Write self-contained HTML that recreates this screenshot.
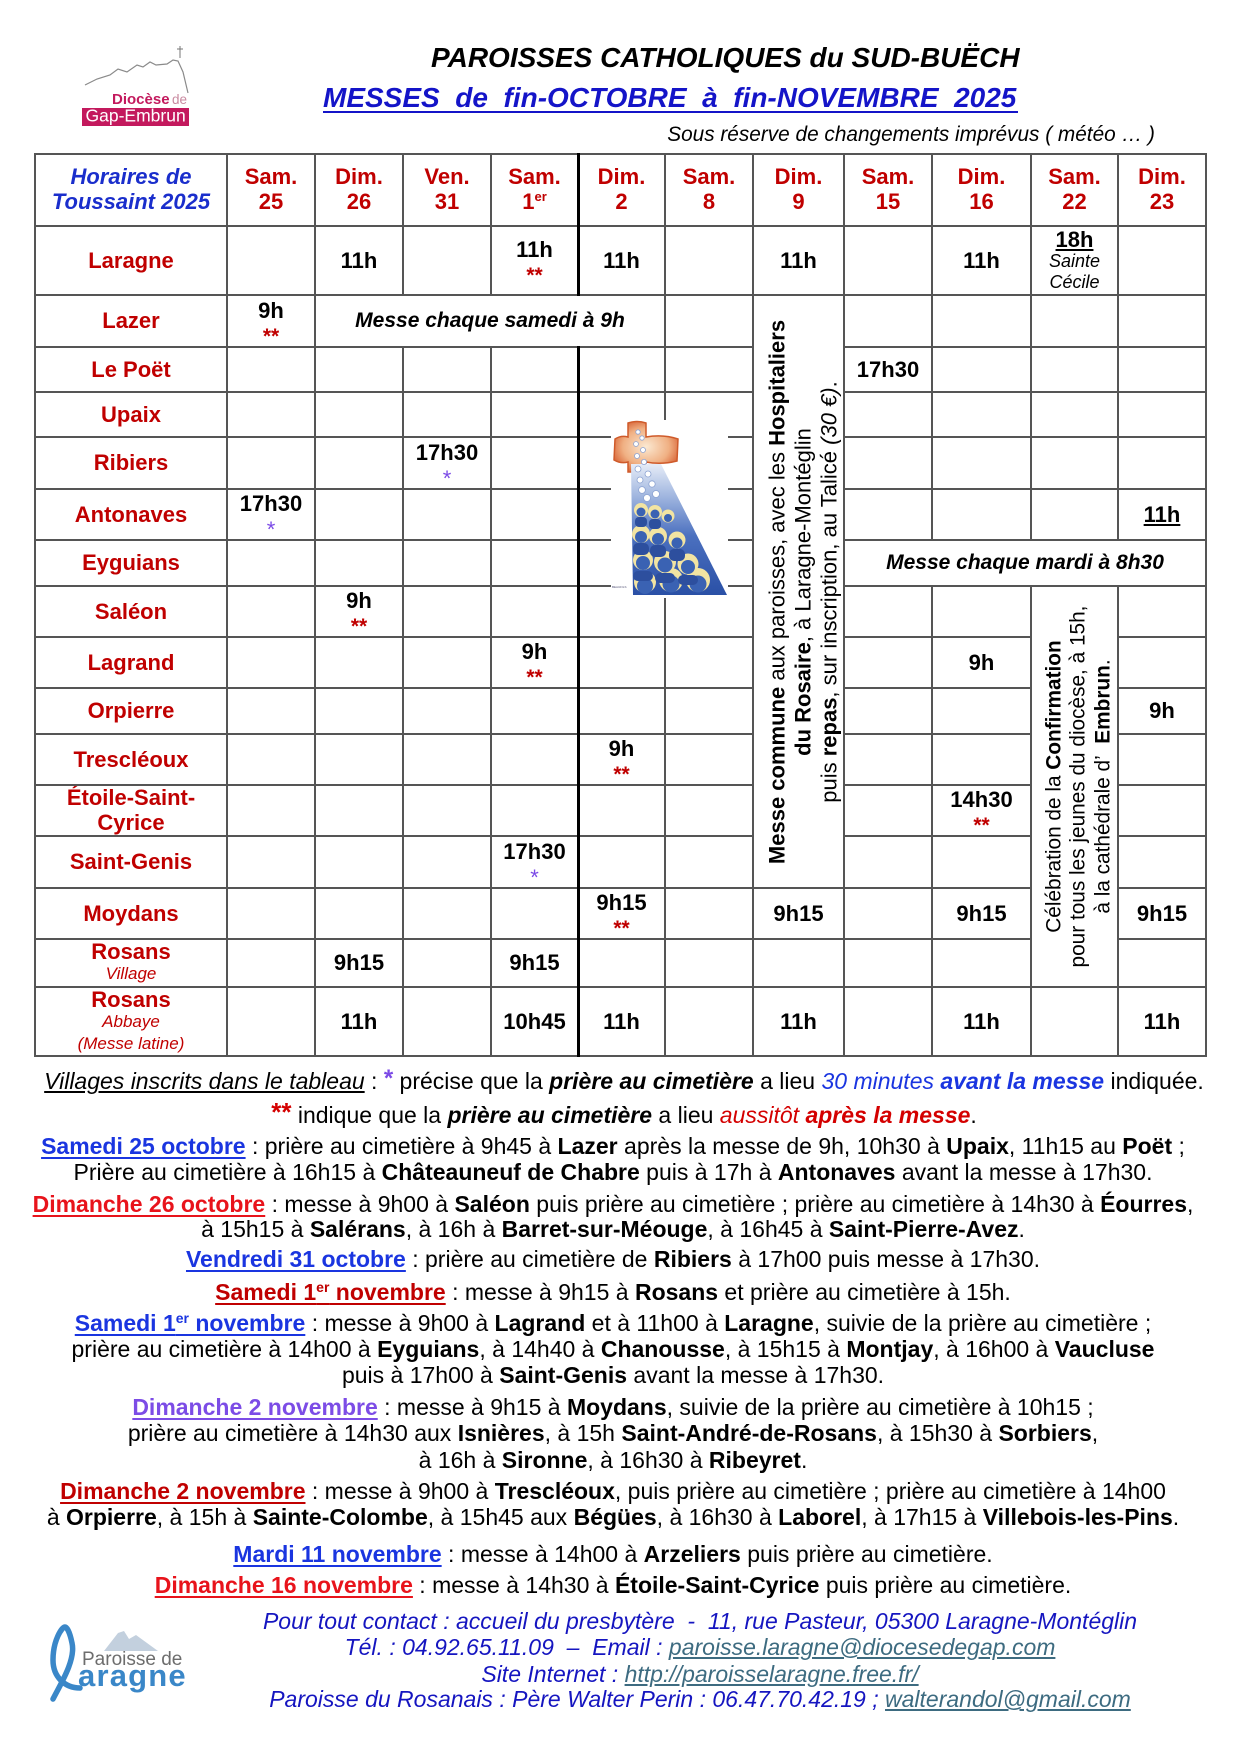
<!DOCTYPE html>
<html><head><meta charset="utf-8">
<style>
html,body{margin:0;padding:0;background:#fff;}
body{width:1241px;height:1755px;position:relative;overflow:hidden;font-family:"Liberation Sans",Arial,sans-serif;color:#000;}
.abs{position:absolute;white-space:nowrap;}
table.t{position:absolute;left:34px;top:153px;border-collapse:collapse;table-layout:fixed;width:1172px;}
.t td{border:2px solid #555;padding:0;text-align:center;vertical-align:middle;font:bold 22px/24px "Liberation Sans",Arial,sans-serif;color:#000;overflow:hidden;}
.t td.hd{color:#c00000;line-height:24.7px;}
.t td.hb{color:#1a2ecc;font-style:italic;line-height:24.7px;}
.t td.lb{color:#c00000;}
.t sup{font-size:13px;vertical-align:8px;line-height:0;}
.s2{color:#c00000;font-size:21px;line-height:14px;margin-top:7px;font-weight:bold;}
.s1{color:#7b4ae6;font-size:22px;line-height:14px;margin-top:7px;font-weight:normal;}
.sm{font:italic 17px/22px "Liberation Sans",Arial,sans-serif;color:#c00000;}
.it18{font:italic 18px/21px "Liberation Sans",Arial,sans-serif;color:#000;}
.bi{font-weight:bold;font-style:italic;}
.rot{position:absolute;transform:rotate(-90deg);text-align:center;white-space:nowrap;font-family:"Liberation Sans",Arial,sans-serif;color:#000;}
.ln{position:absolute;left:0;width:1226px;text-align:center;font-size:23px;line-height:26px;white-space:nowrap;}
.ln u.d{text-decoration-thickness:2px;text-underline-offset:3px;font-weight:bold;}
.ln sup{font-size:14px;vertical-align:8px;line-height:0;}
.bl{color:#1a35e0;}
.rd{color:#e8131b;}
.dr{color:#c00000;}
.pu{color:#7c4ce6;}
.ct{position:absolute;left:80px;width:1240px;text-align:center;font-size:23px;line-height:26px;white-space:nowrap;font-style:italic;color:#1515c0;}
.lk{color:#3d6b80;text-decoration:underline;}
</style></head>
<body>

<!-- Diocese logo -->
<svg class="abs" style="left:70px;top:40px" width="130" height="95" viewBox="0 0 130 95">
<polyline points="15,45 27,39 40,35 48,29 57,32 67,25 73,27 80,22 86,25 97,24 103,20 108,21 113,32 118,53" fill="none" stroke="#8a8a8a" stroke-width="1.2"/>
<line x1="110" y1="6" x2="110" y2="18" stroke="#777" stroke-width="1"/>
<line x1="107" y1="9" x2="113" y2="9" stroke="#777" stroke-width="1"/>
<text x="42" y="64" font-family="Liberation Sans, Arial, sans-serif" font-weight="bold" font-size="15" fill="#c3195d">Diocèse</text>
<text x="102" y="64" font-family="Liberation Sans, Arial, sans-serif" font-size="13.5" fill="#c98aa0">de</text>
<rect x="12" y="68" width="107" height="18" fill="#c3195d"/>
<text x="15.5" y="81.5" font-family="Liberation Sans, Arial, sans-serif" font-size="17.5" fill="#fff">Gap-Embrun</text>
</svg>

<!-- Titles -->
<div class="abs" style="left:431px;top:42.3px;font:italic bold 28px/32px 'Liberation Sans',Arial,sans-serif;">PAROISSES CATHOLIQUES du SUD-BUËCH</div>
<div class="abs" style="left:323px;top:81.6px;font:italic bold 28px/32px 'Liberation Sans',Arial,sans-serif;color:#1414c8;white-space:pre;">MESSES  de  fin-OCTOBRE  à  fin-NOVEMBRE  2025</div>
<div class="abs" style="left:323px;top:111px;width:695px;height:2px;background:#1414c8;"></div>
<div class="abs" style="left:500px;width:655px;top:123px;text-align:right;font:italic 20.8px/24px 'Liberation Sans',Arial,sans-serif;">Sous réserve de changements imprévus ( météo … )</div>

<!-- Table -->
<table class="t">
<colgroup>
<col style="width:192px"><col style="width:88px"><col style="width:88px"><col style="width:88px"><col style="width:87px"><col style="width:87px"><col style="width:88px"><col style="width:91px"><col style="width:88px"><col style="width:99px"><col style="width:87px"><col style="width:88px">
</colgroup>
<tr style="height:72px">
<td class="hb">Horaires de<br>Toussaint 2025</td>
<td class="hd">Sam.<br>25</td><td class="hd">Dim.<br>26</td><td class="hd">Ven.<br>31</td><td class="hd">Sam.<br>1<sup>er</sup></td><td class="hd">Dim.<br>2</td><td class="hd">Sam.<br>8</td><td class="hd">Dim.<br>9</td><td class="hd">Sam.<br>15</td><td class="hd">Dim.<br>16</td><td class="hd">Sam.<br>22</td><td class="hd">Dim.<br>23</td>
</tr>
<tr style="height:69px">
<td class="lb">Laragne</td><td></td><td>11h</td><td></td><td>11h<div class="s2">**</div></td><td>11h</td><td></td><td>11h</td><td></td><td>11h</td>
<td><div style="line-height:22px"><u>18h</u></div><div class="it18">Sainte</div><div class="it18">Cécile</div></td><td></td>
</tr>
<tr style="height:52px">
<td class="lb">Lazer</td><td>9h<div class="s2">**</div></td>
<td colspan="4" style="font-style:italic;font-size:21px;">Messe chaque samedi à 9h</td>
<td></td><td rowspan="12"></td><td></td><td></td><td></td><td></td>
</tr>
<tr style="height:45px">
<td class="lb">Le Poët</td><td></td><td></td><td></td><td></td><td></td><td></td><td>17h30</td><td></td><td></td><td></td>
</tr>
<tr style="height:45px">
<td class="lb">Upaix</td><td></td><td></td><td></td><td></td><td></td><td></td><td></td><td></td><td></td><td></td>
</tr>
<tr style="height:52px">
<td class="lb">Ribiers</td><td></td><td></td><td>17h30<div class="s1">*</div></td><td></td><td></td><td></td><td></td><td></td><td></td><td></td>
</tr>
<tr style="height:51px">
<td class="lb">Antonaves</td><td>17h30<div class="s1">*</div></td><td></td><td></td><td></td><td></td><td></td><td></td><td></td><td></td><td><u>11h</u></td>
</tr>
<tr style="height:46px">
<td class="lb">Eyguians</td><td></td><td></td><td></td><td></td><td></td><td></td>
<td colspan="4" style="font-style:italic;font-size:21px;">Messe chaque mardi à 8h30</td>
</tr>
<tr style="height:51px">
<td class="lb">Saléon</td><td></td><td>9h<div class="s2">**</div></td><td></td><td></td><td></td><td></td><td></td><td></td><td rowspan="8"></td><td></td>
</tr>
<tr style="height:51px">
<td class="lb">Lagrand</td><td></td><td></td><td></td><td>9h<div class="s2">**</div></td><td></td><td></td><td></td><td>9h</td><td></td>
</tr>
<tr style="height:46px">
<td class="lb">Orpierre</td><td></td><td></td><td></td><td></td><td></td><td></td><td></td><td></td><td>9h</td>
</tr>
<tr style="height:51px">
<td class="lb">Trescléoux</td><td></td><td></td><td></td><td></td><td>9h<div class="s2">**</div></td><td></td><td></td><td></td><td></td>
</tr>
<tr style="height:51px">
<td class="lb" style="line-height:24.5px">Étoile-Saint-<br>Cyrice</td><td></td><td></td><td></td><td></td><td></td><td></td><td></td><td>14h30<div class="s2">**</div></td><td></td>
</tr>
<tr style="height:52px">
<td class="lb">Saint-Genis</td><td></td><td></td><td></td><td>17h30<div class="s1">*</div></td><td></td><td></td><td></td><td></td><td></td>
</tr>
<tr style="height:51px">
<td class="lb">Moydans</td><td></td><td></td><td></td><td></td><td>9h15<div class="s2">**</div></td><td></td><td>9h15</td><td></td><td>9h15</td><td>9h15</td>
</tr>
<tr style="height:48px">
<td class="lb"><div style="line-height:22px">Rosans</div><div class="sm">Village</div></td><td></td><td>9h15</td><td></td><td>9h15</td><td></td><td></td><td></td><td></td><td></td><td></td>
</tr>
<tr style="height:69px">
<td class="lb"><div style="line-height:22px">Rosans</div><div class="sm">Abbaye</div><div class="sm" style="line-height:21px">(Messe latine)</div></td><td></td><td>11h</td><td></td><td>10h45</td><td>11h</td><td></td><td>11h</td><td></td><td>11h</td><td></td><td>11h</td>
</tr>
</table>

<!-- thick separator -->
<div class="abs" style="left:576.5px;top:153px;width:3px;height:143px;background:#000;"></div>
<div class="abs" style="left:576.5px;top:346px;width:3px;height:711px;background:#000;"></div>

<!-- image -->
<svg class="abs" style="left:611px;top:420px;background:#fff" width="117" height="178" viewBox="0 0 117 178">
<defs>
<radialGradient id="cl" cx="0.5" cy="0.5" r="0.6"><stop offset="0" stop-color="#fbe9d2"/><stop offset="0.6" stop-color="#f0b083"/><stop offset="1" stop-color="#d4582a"/></radialGradient>
<linearGradient id="tr" x1="0" y1="0" x2="0" y2="1"><stop offset="0" stop-color="#e6ecf7"/><stop offset="0.25" stop-color="#9fb5df"/><stop offset="0.55" stop-color="#4b70bf"/><stop offset="1" stop-color="#2a50a6"/></linearGradient>
</defs>
<path d="M17,3 Q26,0 35,3 L35,17 Q52,14 67,19 L66,41 Q50,45 35,42 L35,52 L17,52 L17,42 Q10,44 3,40 L4,19 Q10,15 17,17 Z" fill="url(#cl)" stroke="#cf5a2a" stroke-width="1.5"/>
<polygon points="20,44 50,44 116,175 22,175" fill="url(#tr)"/>
<g fill="#fff" stroke="#8ba2d2" stroke-width="0.8">
<circle cx="27" cy="12" r="2.2"/><circle cx="31" cy="18" r="2.2"/><circle cx="25" cy="24" r="2.4"/><circle cx="32" cy="30" r="2.5"/><circle cx="26" cy="36" r="2.5"/><circle cx="33" cy="42" r="2.6"/>
<circle cx="27" cy="49" r="3"/><circle cx="37" cy="54" r="3"/><circle cx="29" cy="60" r="3"/><circle cx="41" cy="64" r="3.2"/><circle cx="31" cy="70" r="3.4"/><circle cx="45" cy="74" r="3.5"/><circle cx="36" cy="78" r="3.5"/>
</g>
<g fill="#f2e4a2">
<circle cx="30" cy="90" r="7"/><circle cx="44" cy="92" r="7"/><circle cx="57" cy="96" r="6.5"/>
<circle cx="30" cy="114" r="9"/><circle cx="47" cy="116" r="9"/><circle cx="66" cy="120" r="8.5"/>
<circle cx="32" cy="140" r="10"/><circle cx="54" cy="142" r="11"/><circle cx="77" cy="144" r="10.5"/>
<circle cx="34" cy="162" r="11"/><circle cx="60" cy="160" r="12"/><circle cx="87" cy="160" r="12"/>
</g>
<g fill="#3a62b3">
<circle cx="30" cy="92" r="4.5"/><circle cx="44" cy="94" r="4.5"/><circle cx="57" cy="98" r="4"/>
<circle cx="30" cy="117" r="6"/><circle cx="47" cy="119" r="6"/><circle cx="66" cy="123" r="5.5"/>
<circle cx="32" cy="143" r="7"/><circle cx="54" cy="145" r="7.5"/><circle cx="77" cy="147" r="7"/>
<circle cx="34" cy="166" r="8"/><circle cx="60" cy="164" r="8.5"/><circle cx="87" cy="164" r="8.5"/>
</g>
<g fill="#2d4f9e">
<rect x="24" y="97" width="12" height="10" rx="4"/><rect x="38" y="99" width="12" height="10" rx="4"/>
<rect x="22" y="123" width="16" height="12" rx="5"/><rect x="39" y="125" width="16" height="12" rx="5"/><rect x="58" y="129" width="16" height="12" rx="5"/>
<rect x="22" y="151" width="20" height="10" rx="5"/><rect x="44" y="153" width="20" height="10" rx="5"/><rect x="67" y="155" width="20" height="10" rx="5"/>
</g>
<text x="1" y="168" font-size="3" fill="#557" font-family="Liberation Sans, Arial, sans-serif">BEAUFILS</text>
</svg>

<!-- rotated texts -->
<div class="rot" style="left:506.9px;top:552.5px;width:593px;height:78px;font-size:22px;line-height:26px;">
<div><b>Messe commune</b> aux paroisses, avec les <b>Hospitaliers</b></div>
<div><b>du Rosaire</b>, à Laragne-Montéglin</div>
<div>puis <b>repas</b>, sur inscription, au Talicé <i>(30 €)</i>.</div>
</div>
<div class="rot" style="left:878.8px;top:750.3px;width:400px;height:73px;font-size:20.8px;line-height:24.3px;">
<div>Célébration de la <b>Confirmation</b></div>
<div>pour tous les jeunes du diocèse, à 15h,</div>
<div>à la cathédrale d’&nbsp; <b>Embrun</b>.</div>
</div>

<!-- Notes -->
<div class="ln" style="left:4px;width:1240px;top:1066.3px;"><u><i>Villages inscrits dans le tableau</i></u> : <span style="color:#7b4ae6;font-weight:bold;font-size:24px;vertical-align:3px;">*</span> précise que la <span class="bi">prière au cimetière</span> a lieu <span class="bl"><i>30 minutes </i><span class="bi">avant la messe</span></span> indiquée.</div>
<div class="ln" style="left:4px;width:1240px;top:1098.7px;"><span style="color:#d40000;font-weight:bold;font-size:26px;vertical-align:2px;">**</span> indique que la <span class="bi">prière au cimetière</span> a lieu <span style="color:#d40000"><i>aussitôt </i><span class="bi">après la messe</span></span>.</div>

<div class="ln" style="top:1133px;"><u class="d bl">Samedi 25 octobre</u> : prière au cimetière à 9h45 à <b>Lazer</b> après la messe de 9h, 10h30 à <b>Upaix</b>, 11h15 au <b>Poët</b> ;</div>
<div class="ln" style="top:1159px;">Prière au cimetière à 16h15 à <b>Châteauneuf de Chabre</b> puis à 17h à <b>Antonaves</b> avant la messe à 17h30.</div>

<div class="ln" style="top:1190.7px;"><u class="d rd">Dimanche 26 octobre</u> : messe à 9h00 à <b>Saléon</b> puis prière au cimetière ; prière au cimetière à 14h30 à <b>Éourres</b>,</div>
<div class="ln" style="top:1216.3px;">à 15h15 à <b>Salérans</b>, à 16h à <b>Barret-sur-Méouge</b>, à 16h45 à <b>Saint-Pierre-Avez</b>.</div>

<div class="ln" style="top:1246.3px;"><u class="d bl">Vendredi 31 octobre</u> : prière au cimetière de <b>Ribiers</b> à 17h00 puis messe à 17h30.</div>

<div class="ln" style="top:1279.3px;"><u class="d dr">Samedi 1<sup>er</sup> novembre</u> : messe à 9h15 à <b>Rosans</b> et prière au cimetière à 15h.</div>

<div class="ln" style="top:1309.7px;"><u class="d bl">Samedi 1<sup>er</sup> novembre</u> : messe à 9h00 à <b>Lagrand</b> et à 11h00 à <b>Laragne</b>, suivie de la prière au cimetière ;</div>
<div class="ln" style="top:1335.7px;">prière au cimetière à 14h00 à <b>Eyguians</b>, à 14h40 à <b>Chanousse</b>, à 15h15 à <b>Montjay</b>, à 16h00 à <b>Vaucluse</b></div>
<div class="ln" style="top:1361.7px;">puis à 17h00 à <b>Saint-Genis</b> avant la messe à 17h30.</div>

<div class="ln" style="top:1394px;"><u class="d pu">Dimanche 2 novembre</u> : messe à 9h15 à <b>Moydans</b>, suivie de la prière au cimetière à 10h15 ;</div>
<div class="ln" style="top:1420px;">prière au cimetière à 14h30 aux <b>Isnières</b>, à 15h <b>Saint-André-de-Rosans</b>, à 15h30 à <b>Sorbiers</b>,</div>
<div class="ln" style="top:1447.3px;">à 16h à <b>Sironne</b>, à 16h30 à <b>Ribeyret</b>.</div>

<div class="ln" style="top:1478.3px;"><u class="d dr">Dimanche 2 novembre</u> : messe à 9h00 à <b>Trescléoux</b>, puis prière au cimetière ; prière au cimetière à 14h00</div>
<div class="ln" style="top:1504px;">à <b>Orpierre</b>, à 15h à <b>Sainte-Colombe</b>, à 15h45 aux <b>Bégües</b>, à 16h30 à <b>Laborel</b>, à 17h15 à <b>Villebois-les-Pins</b>.</div>

<div class="ln" style="top:1540.7px;"><u class="d bl">Mardi 11 novembre</u> : messe à 14h00 à <b>Arzeliers</b> puis prière au cimetière.</div>
<div class="ln" style="top:1571.7px;"><u class="d rd">Dimanche 16 novembre</u> : messe à 14h30 à <b>Étoile-Saint-Cyrice</b> puis prière au cimetière.</div>

<!-- Contact -->
<div class="ct" style="top:1607.7px;">Pour tout contact : accueil du presbytère &nbsp;- &nbsp;11, rue Pasteur, 05300 Laragne-Montéglin</div>
<div class="ct" style="top:1634px;">Tél. : 04.92.65.11.09 &nbsp;– &nbsp;Email : <span class="lk">paroisse.laragne@diocesedegap.com</span></div>
<div class="ct" style="top:1660.7px;">Site Internet : <span class="lk">http://paroisselaragne.free.fr/</span></div>
<div class="ct" style="top:1686.3px;">Paroisse du Rosanais : Père Walter Perin : 06.47.70.42.19 ; <span class="lk">walterandol@gmail.com</span></div>

<!-- Laragne logo -->
<svg class="abs" style="left:40px;top:1615px" width="160" height="95" viewBox="0 0 160 95">
<polygon points="64,36 78,18 84,16 89,24 96,20 118,36" fill="#c3d0de"/>
<path d="M13,84 C20,70 36,45 32,28 C30,18 27,12 25,12 C22,12 13,25 13,45 C13,62 25,73 40,73" fill="none" stroke="#3a87c8" stroke-width="5.5" stroke-linecap="round"/>
<text x="42" y="50" font-family="Liberation Sans, Arial, sans-serif" font-size="19" fill="#6d6d6d">Paroisse de</text>
<text x="38" y="71" font-family="Liberation Sans, Arial, sans-serif" font-weight="bold" font-size="31" letter-spacing="1.2" fill="#3a87c8">aragne</text>
</svg>

</body></html>
